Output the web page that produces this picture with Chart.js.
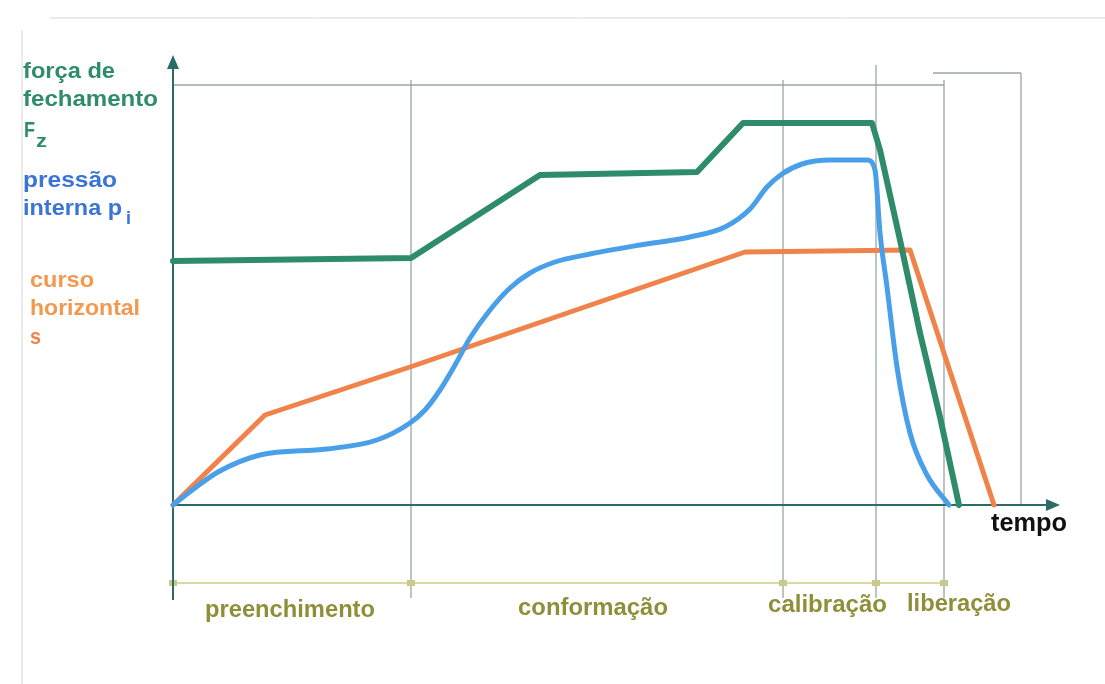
<!DOCTYPE html>
<html>
<head>
<meta charset="utf-8">
<script src="https://cdn.jsdelivr.net/npm/chart.js@4"></script>
<style>
  body { margin: 0; background: #fff; }
  #wrap { width: 1105px; height: 684px; position: relative; }
</style>
</head>
<body>
<div id="wrap"><canvas id="chart"></canvas></div>
<script>
// time (t) and value (v), origin at the axes crossing
const forceT = [0, 238, 367, 524, 570, 699, 707, 727, 747, 767, 786];
const forceV = [244, 247, 330, 333, 382, 382, 355, 265, 172, 88, 0];

const pressureT = [0, 22, 45, 87, 154, 204, 237, 252, 267, 282, 297, 317, 337, 357, 382, 417, 467, 517, 552, 577, 594, 609, 629, 657, 694, 702, 707, 714, 724, 737, 754, 776];
const pressureV = [0, 17, 33, 50, 56, 65, 82, 95, 115, 140, 167, 195, 217, 232, 243, 251, 260, 268, 278, 296, 318, 331, 341, 345, 345, 335, 272, 218, 138, 72, 30, 0];

const strokeT = [0, 92, 240, 572, 737, 821];
const strokeV = [0, 90, 139, 253, 255, 0];

// phase boundaries on the time axis
const phaseEdges = [0, 238, 610, 703, 771];
const phaseNames = ['preenchimento', 'conformação', 'calibração', 'liberação'];

const GREEN = '#2f8c6b';
const BLUE = '#4aa0e8';
const ORANGE = '#f0834a';
const AXIS = '#2d6b66';

function toPoints(ts, vs) {
  return ts.map((t, i) => ({ x: t, y: vs[i] }));
}

function arrow(ctx, x, y, dir) {
  ctx.beginPath();
  if (dir === 'up') {
    ctx.moveTo(x, y); ctx.lineTo(x - 6, y + 14); ctx.lineTo(x + 6, y + 14);
  } else {
    ctx.moveTo(x, y); ctx.lineTo(x - 14, y - 6); ctx.lineTo(x - 14, y + 6);
  }
  ctx.closePath();
  ctx.fill();
}

// draws text squeezed or stretched to a given width (the scan uses a condensed face)
function fitText(ctx, text, x, y, width) {
  const w = ctx.measureText(text).width;
  ctx.save();
  ctx.translate(x, y);
  ctx.scale(width / w, 1);
  ctx.fillText(text, 0, 0);
  ctx.restore();
}

const backdrop = {
  id: 'backdrop',
  beforeDatasetsDraw(chart) {
    const ctx = chart.ctx;
    const xs = chart.scales.x, ys = chart.scales.y;
    const x0 = xs.getPixelForValue(0), y0 = ys.getPixelForValue(0);
    ctx.save();
    // scanned page edges
    ctx.strokeStyle = '#d8d8d8';
    ctx.lineWidth = 1;
    ctx.beginPath();
    ctx.moveTo(50, 18); ctx.lineTo(1105, 18);
    ctx.moveTo(22, 30); ctx.lineTo(22, 684);
    ctx.stroke();

    // frame and phase grid
    ctx.strokeStyle = '#9aa6a4';
    ctx.lineWidth = 1.3;
    ctx.beginPath();
    ctx.moveTo(x0, 85); ctx.lineTo(xs.getPixelForValue(771), 85);
    ctx.moveTo(xs.getPixelForValue(760), 73); ctx.lineTo(xs.getPixelForValue(848), 73);
    ctx.moveTo(xs.getPixelForValue(848), 73); ctx.lineTo(xs.getPixelForValue(848), y0);
    phaseEdges.slice(1).forEach(t => {
      const px = xs.getPixelForValue(t);
      ctx.moveTo(px, t === 703 ? 65 : 80);
      ctx.lineTo(px, 598);
    });
    ctx.stroke();

    // phase span line
    ctx.strokeStyle = '#d9d9a6';
    ctx.lineWidth = 2;
    ctx.beginPath();
    ctx.moveTo(x0, 583); ctx.lineTo(xs.getPixelForValue(771), 583);
    ctx.stroke();
    ctx.fillStyle = '#c9c98c';
    phaseEdges.forEach(t => {
      const px = xs.getPixelForValue(t);
      ctx.fillRect(px - 4, 580, 8, 6);
    });

    // axes
    ctx.strokeStyle = AXIS;
    ctx.fillStyle = AXIS;
    ctx.lineWidth = 2;
    ctx.beginPath();
    ctx.moveTo(x0, 600); ctx.lineTo(x0, 62);
    ctx.moveTo(x0, y0); ctx.lineTo(xs.right - 4, y0);
    ctx.stroke();
    arrow(ctx, x0, 55, 'up');
    arrow(ctx, xs.right + 2, y0, 'right');
    ctx.restore();
  },
  afterDraw(chart) {
    const ctx = chart.ctx;
    ctx.save();
    ctx.textBaseline = 'alphabetic';
    const f = (s) => 'bold ' + s + 'px "Liberation Sans", Arial, sans-serif';

    ctx.font = f(22);
    ctx.fillStyle = GREEN;
    fitText(ctx, 'força de', 23, 78, 92);
    fitText(ctx, 'fechamento', 23, 106, 135);
    fitText(ctx, 'F', 24, 137, 11);
    ctx.font = f(19);
    fitText(ctx, 'z', 36, 147, 11);

    ctx.font = f(22);
    ctx.fillStyle = '#3b74d4';
    fitText(ctx, 'pressão', 23, 187, 94);
    fitText(ctx, 'interna p', 23, 215, 99);
    ctx.font = f(19);
    fitText(ctx, 'i', 126, 224, 5);

    ctx.font = f(22);
    ctx.fillStyle = '#f2994f';
    fitText(ctx, 'curso', 30, 287, 64);
    fitText(ctx, 'horizontal', 30, 315, 110);
    ctx.fillStyle = ORANGE;
    fitText(ctx, 's', 30, 344, 11);

    ctx.fillStyle = '#111';
    ctx.font = f(25);
    fitText(ctx, 'tempo', 991, 531, 76);

    ctx.font = f(24);
    ctx.fillStyle = '#8f8f3a';
    fitText(ctx, phaseNames[0], 205, 617, 170);
    fitText(ctx, phaseNames[1], 518, 615, 150);
    fitText(ctx, phaseNames[2], 768, 612, 119);
    fitText(ctx, phaseNames[3], 907, 611, 104);
    ctx.restore();
  }
};

new Chart(document.getElementById('chart'), {
  type: 'line',
  data: {
    datasets: [
      { label: 'força de fechamento Fz', data: toPoints(forceT, forceV), borderColor: GREEN, borderWidth: 6, tension: 0 },
      { label: 'pressão interna pi', data: toPoints(pressureT, pressureV), borderColor: BLUE, borderWidth: 5, cubicInterpolationMode: 'monotone' },
      { label: 'curso horizontal s', data: toPoints(strokeT, strokeV), borderColor: ORANGE, borderWidth: 5, tension: 0 }
    ]
  },
  options: {
    responsive: true,
    maintainAspectRatio: false,
    animation: false,
    layout: { padding: { left: 173, right: 47, top: 65, bottom: 179 } },
    elements: { point: { radius: 0 }, line: { borderJoinStyle: 'round', borderCapStyle: 'round' } },
    datasets: { line: { clip: false } },
    scales: {
      x: { type: 'linear', min: 0, max: 885, display: false },
      y: { min: 0, max: 440, display: false }
    },
    plugins: { legend: { display: false }, tooltip: { enabled: false } }
  },
  plugins: [backdrop]
});
</script>
</body>
</html>
